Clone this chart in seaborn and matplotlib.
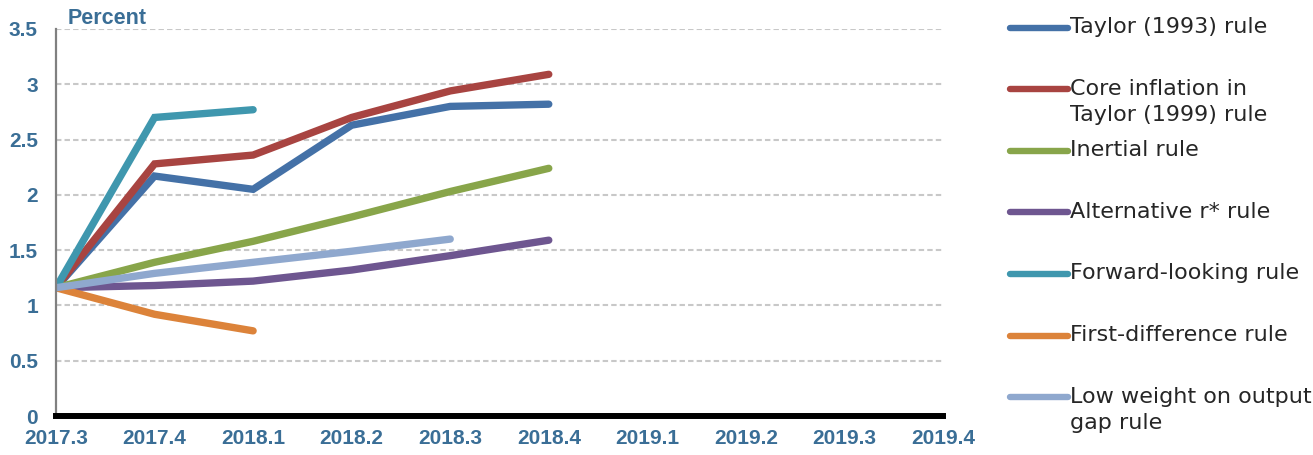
import numpy as np
import pandas as pd
import matplotlib
matplotlib.use("Agg")
import matplotlib.pyplot as plt
from matplotlib.legend_handler import HandlerLine2D
import seaborn as sns

quarters = ["2017.3", "2017.4", "2018.1", "2018.2", "2018.3", "2018.4",
            "2019.1", "2019.2", "2019.3", "2019.4"]

taylor_1993 = [1.16, 2.17, 2.05, 2.63, 2.80, 2.82]
core_taylor_1999 = [1.16, 2.28, 2.36, 2.70, 2.94, 3.09]
inertial = [1.16, 1.39, 1.58, 1.80, 2.03, 2.24]
alt_rstar = [1.16, 1.18, 1.22, 1.32, 1.45, 1.59]
forward_looking = [1.16, 2.70, 2.77]
first_difference = [1.16, 0.92, 0.77]
low_weight_gap = [1.16, 1.29, 1.39, 1.49, 1.60]

series_names = ["Taylor (1993) rule",
                "Core inflation in\nTaylor (1999) rule",
                "Inertial rule",
                "Alternative r* rule",
                "Forward-looking rule",
                "First-difference rule",
                "Low weight on output\ngap rule"]
series_values = [taylor_1993, core_taylor_1999, inertial, alt_rstar,
                 forward_looking, first_difference, low_weight_gap]
colors = ["#4471A7", "#A84441", "#88A54A", "#6E5690", "#3F97AE", "#DC833A", "#8FA8CE"]

rows = []
for name, vals in zip(series_names, series_values):
    for i, v in enumerate(vals):
        rows.append({"rule": name, "q": i, "value": v})
df = pd.DataFrame(rows)

sns.set_theme(style="white")
plt.rcParams['font.family'] = ['DejaVu Sans']

fig = plt.figure(figsize=(13.13, 4.55), dpi=100)
ax = fig.add_axes([56/1313, 1 - 416/455, (943-56)/1313, (416-29)/455])

sns.lineplot(data=df, x="q", y="value", hue="rule", hue_order=series_names,
             palette=dict(zip(series_names, colors)), linewidth=5.3,
             sort=False, ax=ax, legend=True)
for ln in ax.get_lines():
    ln.set_solid_capstyle("round")
    ln.set_solid_joinstyle("miter")

tick_color = "#3A6E96"
ax.set_xlim(0, 9)
ax.set_ylim(0, 3.5)
ax.set_xticks(range(len(quarters)))
ax.set_xticklabels(quarters)
yt = [0, 0.5, 1, 1.5, 2, 2.5, 3, 3.5]
ax.set_yticks(yt)
ax.set_yticklabels(["0", "0.5", "1", "1.5", "2", "2.5", "3", "3.5"])
for lab in ax.get_xticklabels() + ax.get_yticklabels():
    lab.set_family("Liberation Sans")
    lab.set_fontweight("bold")
    lab.set_fontsize(15)
    lab.set_color(tick_color)
ax.tick_params(axis="both", length=0)
ax.tick_params(axis="y", pad=13)
ax.tick_params(axis="x", pad=9)
ax.set_xlabel("")
ax.set_ylabel("")

ax.yaxis.grid(True, color="#C8C8C8", linestyle=(0, (2.6, 1.5)), linewidth=1.5)
ax.set_axisbelow(True)
for s in ["top", "right"]:
    ax.spines[s].set_visible(False)
ax.spines["left"].set_color("#808080")
ax.spines["left"].set_linewidth(1.6)
ax.spines["bottom"].set_color("black")
ax.spines["bottom"].set_linewidth(4.3)
ax.spines["bottom"].set_zorder(5)

ax.text(68/1313, 1 - 24/455, "Percent", transform=fig.transFigure,
        family="Liberation Sans", fontweight="bold", fontsize=15.5,
        color=tick_color, ha="left", va="baseline")


class TopLineHandler(HandlerLine2D):
    """Place the legend line at the first text line of a two-line slot."""
    shift_pt = 9.4

    def create_artists(self, legend, orig_handle, xdescent, ydescent,
                       width, height, fontsize, trans):
        artists = super().create_artists(legend, orig_handle, xdescent,
                                         ydescent, width, height, fontsize, trans)
        for a in artists:
            a.set_ydata(np.asarray(a.get_ydata()) + self.shift_pt)
        return artists


handles, labels = ax.get_legend_handles_labels()
ax.legend_.remove()
slot_labels = [lab if "\n" in lab else lab + "\n" for lab in labels]
leg = fig.legend(handles, slot_labels, loc="upper left",
                 bbox_to_anchor=(1010/1313, 1 - 17/455), frameon=False,
                 fontsize=16, labelspacing=0.67, handlelength=2.6,
                 handletextpad=0.08, borderaxespad=0, borderpad=0,
                 handler_map={h: TopLineHandler() for h in handles})
for t in leg.get_texts():
    t.set_linespacing(1.42)
for h in leg.legend_handles:
    h.set_linewidth(4.6)
    h.set_solid_capstyle("round")

fig.savefig("out.png", dpi=100)
